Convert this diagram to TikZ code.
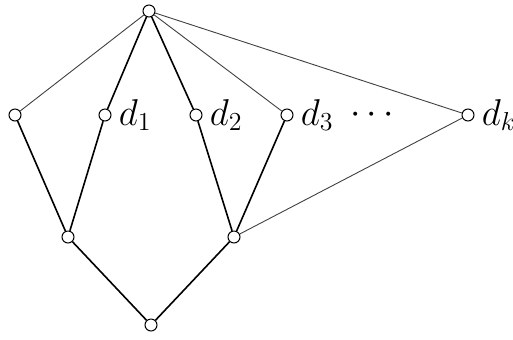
\documentclass[tikz,border=0pt]{standalone}
\usepackage{amsmath}
\usepackage{graphicx}
\usepackage{tikz}
\usetikzlibrary{positioning}
\newcommand{\vlab}[1]{\scalebox{1.08}{$#1$}}
\tikzset{
  vtx/.style={circle,draw,fill=white,inner sep=0pt,minimum size=6pt,line width=0.5pt},
  lab/.style={font=\LARGE,inner sep=0pt},
  edgeA/.style={line width=0.8pt},
  edgeB/.style={line width=0.45pt,black!75}
}
\begin{document}
\begin{tikzpicture}[x=0.5pt,y=-0.5pt]
\useasboundingbox (0,0) rectangle (513,339);
% vertices
\node[vtx] (top) at (149,11) {};
\node[vtx] (lft) at (15,115) {};
\node[vtx] (d1) at (105,115) {};
\node[vtx] (d2) at (196,115) {};
\node[vtx] (d3) at (287,115) {};
\node[vtx] (dk) at (468,115) {};
\node[vtx] (ll) at (68,237) {};
\node[vtx] (lr) at (234,237) {};
\node[vtx] (bot) at (151,325) {};
% labels
\node[lab,right=3.5pt of d1] (l1) {\vlab{d_1}};
\node[lab,right=3.5pt of d2] (l2) {\vlab{d_2}};
\node[lab,right=3.5pt of d3] (l3) {\vlab{d_3}};
\node[lab,right=3.5pt of dk] (lk) {\vlab{d_k}};
\node[lab] (dots) at (375,115) {\vlab{\cdots}};
% edges
\begin{scope}[on background layer/.try]
\draw[edgeB] (top) -- (lft);
\draw[edgeA] (top) -- (d1);
\draw[edgeA] (top) -- (d2);
\draw[edgeB] (top) -- (d3);
\draw[edgeB] (top) -- (dk);
\draw[edgeA] (lft) -- (ll);
\draw[edgeA] (d1) -- (ll);
\draw[edgeA] (d2) -- (lr);
\draw[edgeA] (d3) -- (lr);
\draw[edgeB] (dk) -- (lr);
\draw[edgeA] (ll) -- (bot);
\draw[edgeA] (lr) -- (bot);
\end{scope}
\end{tikzpicture}
\end{document}
